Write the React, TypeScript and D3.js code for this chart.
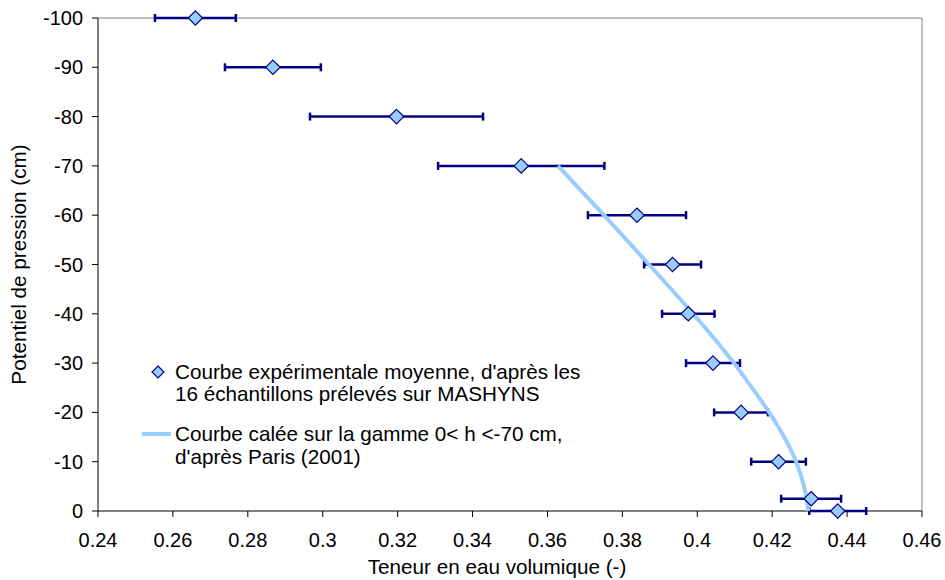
import React from "react";
import * as d3 from "d3";

// Pressure head levels (cm) of the measured retention points
const pressure = [-100, -90, -80, -70, -60, -50, -40, -30, -20, -10, -2.5, 0];
// Mean volumetric water content at each level
const thetaMean = [0.266, 0.2867, 0.3197, 0.353, 0.3839, 0.3934, 0.3976, 0.4042, 0.4117, 0.4217, 0.4304, 0.4375];
// Half-width of the horizontal error bar
const thetaErr = [0.0108, 0.0128, 0.0231, 0.0222, 0.0131, 0.0076, 0.007, 0.0072, 0.0072, 0.0073, 0.008, 0.0076];

// Fitted retention curve over 0 < h < -70 cm
const fitPressure = [-70, -60, -50, -40, -30, -25, -20, -15, -10, -5, -2.5, 0];
const fitTheta = [0.3628, 0.3751, 0.3871, 0.3989, 0.4098, 0.4146, 0.4192, 0.4232, 0.4264, 0.4285, 0.4292, 0.4296];

const xTicks = [0.24, 0.26, 0.28, 0.3, 0.32, 0.34, 0.36, 0.38, 0.4, 0.42, 0.44, 0.46];
const yTicks = [-100, -90, -80, -70, -60, -50, -40, -30, -20, -10, 0];

const legendLabels = [
  ["Courbe expérimentale moyenne, d'après les", "16 échantillons prélevés sur MASHYNS"],
  ["Courbe calée sur la gamme 0< h <-70 cm,", "d'après Paris (2001)"],
];

const W = 945;
const H = 580;
const left = 98;
const right = 922;
const top = 18;
const bottom = 511;

const NAVY = "#000080";
const LIGHT = "#99CCFF";
const FONT = "'Liberation Sans', Arial, sans-serif";
const TICK_FS = 20;
const TEXT_FS = 20.7;

function diamond(cx: number, cy: number, r: number) {
  return `M${cx},${cy - r}L${cx + r},${cy}L${cx},${cy + r}L${cx - r},${cy}Z`;
}

export default function App() {
  const x = d3.scaleLinear().domain([0.24, 0.46]).range([left, right]);
  const y = d3.scaleLinear().domain([-100, 0]).range([top, bottom]);

  const fitLine = d3
    .line<number>()
    .x((_, i) => x(fitTheta[i]))
    .y((h) => y(h))
    .curve(d3.curveMonotoneY)(fitPressure) as string;

  return (
    <svg
      width={W}
      height={H}
      style={{ position: "absolute", left: 0, top: 0, background: "#fff" }}
      fontFamily={FONT}
    >
      {/* frame: grey top/right, black axes */}
      <line x1={left} x2={right} y1={top} y2={top} stroke="#808080" strokeWidth={1} />
      <line x1={right} x2={right} y1={top} y2={bottom} stroke="#808080" strokeWidth={1} />

      {/* y axis */}
      <line x1={left} x2={left} y1={top} y2={bottom} stroke="#000" strokeWidth={1} />
      {yTicks.map((t) => (
        <g key={t}>
          <line x1={left - 6} x2={left} y1={y(t)} y2={y(t)} stroke="#000" />
          <text x={left - 15} y={y(t)} dy="0.35em" textAnchor="end" fontSize={TICK_FS} fill="#000">
            {t}
          </text>
        </g>
      ))}

      {/* x axis */}
      <line x1={left} x2={right} y1={bottom} y2={bottom} stroke="#000" strokeWidth={1} />
      {xTicks.map((t) => (
        <g key={t}>
          <line x1={x(t)} x2={x(t)} y1={bottom} y2={bottom + 6} stroke="#000" />
          <text x={x(t)} y={547} textAnchor="middle" fontSize={TICK_FS} fill="#000">
            {d3.format("~g")(t)}
          </text>
        </g>
      ))}

      <text x={497} y={574} textAnchor="middle" fontSize={TEXT_FS} fill="#000">
        Teneur en eau volumique (-)
      </text>
      <text
        transform={`translate(26,${(top + bottom) / 2}) rotate(-90)`}
        textAnchor="middle"
        fontSize={TEXT_FS}
        fill="#000"
      >
        Potentiel de pression (cm)
      </text>

      {/* error bars */}
      {pressure.map((h, i) => {
        const x0 = x(thetaMean[i] - thetaErr[i]);
        const x1 = x(thetaMean[i] + thetaErr[i]);
        const cy = y(h);
        return (
          <g key={`e${i}`} stroke={NAVY}>
            <line x1={x0} x2={x1} y1={cy} y2={cy} strokeWidth={2.5} />
            <line x1={x0} x2={x0} y1={cy - 4} y2={cy + 4} strokeWidth={2.5} />
            <line x1={x1} x2={x1} y1={cy - 4} y2={cy + 4} strokeWidth={2.5} />
          </g>
        );
      })}

      {/* fitted curve */}
      <path d={fitLine} fill="none" stroke={LIGHT} strokeWidth={4} />

      {/* mean points */}
      {pressure.map((h, i) => (
        <path
          key={`p${i}`}
          d={diamond(x(thetaMean[i]), y(h), 7.2)}
          fill={LIGHT}
          stroke={NAVY}
          strokeWidth={1.2}
        />
      ))}

      {/* legend */}
      <path d={diamond(158, 372, 6)} fill={LIGHT} stroke={NAVY} strokeWidth={1.2} />
      <text x={175} y={372} dy="0.35em" fontSize={TEXT_FS} fill="#000">
        {legendLabels[0][0]}
      </text>
      <text x={175} y={394} dy="0.35em" fontSize={TEXT_FS} fill="#000">
        {legendLabels[0][1]}
      </text>
      <line x1={142} x2={171} y1={434} y2={434} stroke={LIGHT} strokeWidth={4} />
      <text x={175} y={434} dy="0.35em" fontSize={TEXT_FS} fill="#000">
        {legendLabels[1][0]}
      </text>
      <text x={175} y={457} dy="0.35em" fontSize={TEXT_FS} fill="#000">
        {legendLabels[1][1]}
      </text>
    </svg>
  );
}
